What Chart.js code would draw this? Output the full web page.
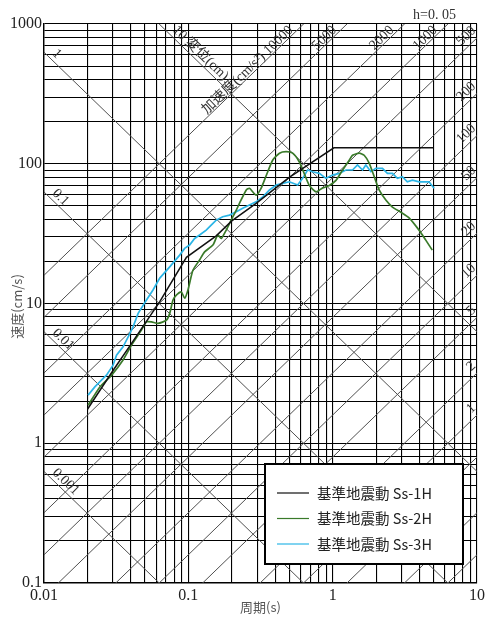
<!DOCTYPE html>
<html>
<head>
<meta charset="utf-8">
<script src="https://cdn.jsdelivr.net/npm/chart.js@4/dist/chart.umd.min.js"></script>
<style>
  body { margin: 0; background: #fff; }
  canvas { display: block; }
</style>
</head>
<body>
<canvas id="spectrum" width="488" height="617"></canvas>
<script>
// 🔹 DATA (period in s, pseudo velocity in cm/s)
const ss1Period = [0.02, 0.03, 0.04, 0.0634, 0.097, 0.156, 0.2, 0.295, 0.5, 1.02, 5.0];
const ss1Vel    = [1.75, 3.3, 5.1, 10.3, 21.4, 30.5, 39, 52, 80, 130, 130];

const ss2Period = [0.0202, 0.0244, 0.0294, 0.0353, 0.0404, 0.0473, 0.0513, 0.0555, 0.0617, 0.0705,
  0.0743, 0.0783, 0.0826, 0.0895, 0.0943, 0.0994, 0.1076, 0.1197, 0.1297, 0.148,
  0.16, 0.169, 0.183, 0.198, 0.215, 0.226, 0.252, 0.265, 0.295, 0.319,
  0.346, 0.384, 0.428, 0.476, 0.528, 0.588, 0.636, 0.689, 0.767, 0.851,
  0.948, 1.054, 1.17, 1.303, 1.373, 1.527, 1.653, 1.79, 1.939, 2.099,
  2.335, 2.595, 2.966, 3.383, 3.966, 4.416, 4.9];
const ss2Vel = [1.87, 2.53, 3.07, 3.94, 5.04, 6.45, 7.39, 7.39, 7.2, 7.6,
  8.5, 10.6, 11.5, 12.1, 10.9, 12.5, 17.3, 20.5, 23.4, 26.2,
  30.9, 29.2, 33.5, 39.5, 46.6, 52.1, 64.9, 66.7, 59.7, 66.7,
  82, 106, 119, 122, 119, 103, 85, 70, 63, 67,
  70, 76, 90, 106, 115, 119, 115, 101, 81, 65,
  55, 49, 45, 41, 33.5, 28.4, 24.1];

const ss3Period = [0.0202, 0.0225, 0.025, 0.0271, 0.0301, 0.0318, 0.0353, 0.0383, 0.0414, 0.0449,
  0.0513, 0.0569, 0.0634, 0.0743, 0.0871, 0.0943, 0.102, 0.1106, 0.1197, 0.133,
  0.144, 0.156, 0.173, 0.193, 0.215, 0.238, 0.265, 0.295, 0.328, 0.365,
  0.406, 0.451, 0.501, 0.572, 0.619, 0.671, 0.726, 0.808, 0.899, 0.998,
  1.111, 1.236, 1.373, 1.486, 1.61, 1.698, 1.84, 1.992, 2.213, 2.395,
  2.595, 2.81, 3.04, 3.29, 3.57, 3.97, 4.3, 4.65, 5.04];
const ss3Vel = [2.21, 2.53, 2.83, 3.07, 3.62, 4.27, 4.9, 5.78, 6.8, 8.5,
  10.6, 12.5, 15.2, 18.3, 22.2, 24.8, 26.2, 29.2, 30.9, 33.5,
  36.4, 39.5, 41.8, 42.9, 45.3, 48, 50.6, 53.4, 58, 64.9,
  70.4, 72.4, 74.3, 70.4, 78.6, 90.2, 87.7, 85.3, 78.6, 83,
  85.3, 90.2, 90.2, 98, 90.2, 98, 87.7, 92.7, 92.7, 85.3,
  85.3, 78.6, 80.7, 74.3, 76.4, 74.3, 74.3, 74.3, 66.7];

const seriesNames = ["基準地震動 Ss-1H", "基準地震動 Ss-2H", "基準地震動 Ss-3H"];

// 🔹 AXES
const gridSteps = [1, 2, 3, 4, 5, 6, 7, 8, 9];
const xDecades = [0.01, 0.1, 1];
const yDecades = [0.1, 1, 10, 100];
const xLabelValues = [0.01, 0.1, 1, 10];
const xLabelText = ["0.01", "0.1", "1", "10"];
const yLabelValues = [0.1, 1, 10, 100, 1000];
const yLabelText = ["0.1", "1", "10", "100", "1000"];

// tripartite lines: acceleration (cm/s2) and displacement (cm)
const accelLines = [10000, 5000, 2000, 1000, 500, 200, 100, 50, 20, 10, 5, 2, 1, 0.5, 0.2, 0.1];
const accelLabels = ["加速度(cm/s²) 10000", "5000", "2000", "1000", "500", "200", "100", "50", "20", "10", "5", "2", "1"];
const dispLines = [10, 1, 0.1, 0.01, 0.001];
const dispLabels = ["10 変位(cm)", "1", "0.1", "0.01", "0.001"];

const TWO_PI = 2 * Math.PI;

const xGrid = xDecades.flatMap(d => gridSteps.map(s => +(d * s).toPrecision(3))).concat([10]);
const yGrid = yDecades.flatMap(d => gridSteps.map(s => +(d * s).toPrecision(3))).concat([1000]);

function findLabel(v, values, texts) {
  const i = values.findIndex(l => Math.abs(Math.log10(l) - Math.log10(v)) < 1e-6);
  return i >= 0 ? texts[i] : "";
}

function pts(px, py) {
  return px.map((t, i) => ({ x: t, y: py[i] }));
}

function textAlong(ctx, str, px, py, ang, align, off) {
  ctx.save();
  ctx.translate(px, py);
  ctx.rotate(ang);
  ctx.textAlign = align;
  ctx.textBaseline = "alphabetic";
  ctx.fillText(str, 0, -off);
  ctx.restore();
}

// 🔹 diagonal lines + their labels
const tripartite = {
  id: "tripartite",
  beforeDatasetsDraw(chart) {
    const { ctx, chartArea: a, scales: { x, y } } = chart;
    const t0 = 0.01, t1 = 10;
    ctx.save();
    ctx.beginPath();
    ctx.rect(a.left, a.top, a.right - a.left, a.bottom - a.top);
    ctx.clip();
    ctx.strokeStyle = "#505050";
    ctx.lineWidth = 1;

    accelLines.forEach(A => {
      ctx.beginPath();
      ctx.moveTo(x.getPixelForValue(t0), y.getPixelForValue(A * t0 / TWO_PI));
      ctx.lineTo(x.getPixelForValue(t1), y.getPixelForValue(A * t1 / TWO_PI));
      ctx.stroke();
    });
    dispLines.forEach(D => {
      ctx.beginPath();
      ctx.moveTo(x.getPixelForValue(t0), y.getPixelForValue(TWO_PI * D / t0));
      ctx.lineTo(x.getPixelForValue(t1), y.getPixelForValue(TWO_PI * D / t1));
      ctx.stroke();
    });

    ctx.fillStyle = "#333";
    ctx.font = "14px 'Liberation Serif', 'Noto Sans CJK JP'";

    // acceleration labels, near where each line leaves the plot
    accelLabels.forEach((lab, i) => {
      const A = accelLines[i];
      const p0x = x.getPixelForValue(t0), p0y = y.getPixelForValue(A * t0 / TWO_PI);
      const p1x = x.getPixelForValue(t1), p1y = y.getPixelForValue(A * t1 / TWO_PI);
      const ang = Math.atan2(p1y - p0y, p1x - p0x);
      const vEnd = A * t1 / TWO_PI;
      let ex, ey, s, off;
      if (vEnd <= 1000) {
        ex = a.right; ey = y.getPixelForValue(vEnd); s = -4; off = 5;
      } else {
        ex = x.getPixelForValue(TWO_PI * 1000 / A); ey = a.top; s = 12; off = 2;
      }
      textAlong(ctx, lab, ex - s * Math.cos(ang), ey - s * Math.sin(ang), ang, "right", off);
    });

    // displacement labels, near where each line enters the plot
    dispLabels.forEach((lab, i) => {
      const D = dispLines[i];
      const p0x = x.getPixelForValue(t0), p0y = y.getPixelForValue(TWO_PI * D / t0);
      const p1x = x.getPixelForValue(t1), p1y = y.getPixelForValue(TWO_PI * D / t1);
      const ang = Math.atan2(p1y - p0y, p1x - p0x);
      const vStart = TWO_PI * D / t0;
      let sx, sy, s;
      if (vStart <= 1000) {
        sx = a.left; sy = y.getPixelForValue(vStart); s = 7;
      } else {
        sx = x.getPixelForValue(TWO_PI * D / 1000); sy = a.top; s = 14;
      }
      textAlong(ctx, lab, sx + s * Math.cos(ang), sy + s * Math.sin(ang), ang, "left", 4);
    });
    ctx.restore();
  },

  afterDraw(chart) {
    const { ctx, chartArea: a } = chart;
    ctx.save();

    // axis titles
    ctx.fillStyle = "#555";
    ctx.font = "13px 'Noto Sans CJK JP'";
    ctx.textAlign = "center";
    ctx.textBaseline = "middle";
    ctx.fillText("周期(s)", (a.left + a.right) / 2, 607);
    ctx.save();
    ctx.translate(17, (a.top + a.bottom) / 2 + 3);
    ctx.rotate(-Math.PI / 2);
    ctx.fillText("速度(cm/s)", 0, 0);
    ctx.restore();

    // damping note
    ctx.fillStyle = "#333";
    ctx.font = "14px 'Liberation Serif'";
    ctx.textAlign = "left";
    ctx.fillText("h=0. 05", 413, 15);

    // legend box
    const bx = 265, by = 464, bw = 198, bh = 100;
    ctx.fillStyle = "#fff";
    ctx.fillRect(bx, by, bw, bh);
    ctx.strokeStyle = "#000";
    ctx.lineWidth = 2;
    ctx.strokeRect(bx, by, bw, bh);
    ctx.font = "14.5px 'Noto Sans CJK JP'";
    ctx.textBaseline = "middle";
    chart.data.datasets.forEach((ds, i) => {
      const ly = 493 + i * 25.5;
      ctx.strokeStyle = ds.borderColor;
      ctx.lineWidth = 1.2;
      ctx.beginPath();
      ctx.moveTo(277, ly);
      ctx.lineTo(309, ly);
      ctx.stroke();
      ctx.fillStyle = "#222";
      ctx.fillText(ds.label, 317, ly);
    });
    ctx.restore();
  }
};

// 🔹 CHART
new Chart(document.getElementById("spectrum"), {
  type: "line",
  data: {
    datasets: [
      { label: seriesNames[0], data: pts(ss1Period, ss1Vel), borderColor: "#111", borderWidth: 1.5 },
      { label: seriesNames[1], data: pts(ss2Period, ss2Vel), borderColor: "#3a7a2a", borderWidth: 1.7, tension: 0.2 },
      { label: seriesNames[2], data: pts(ss3Period, ss3Vel), borderColor: "#2bb5e6", borderWidth: 1.7 }
    ]
  },
  options: {
    responsive: false,
    animation: false,
    devicePixelRatio: 1,
    layout: { padding: { top: 24, right: 10, left: 0, bottom: 0 } },
    elements: { point: { radius: 0 } },
    plugins: { legend: { display: false }, tooltip: { enabled: false } },
    scales: {
      x: {
        type: "logarithmic",
        min: 0.01,
        max: 10,
        afterBuildTicks: s => { s.ticks = xGrid.map(v => ({ value: v })); },
        afterFit: s => { s.height = 34; },
        grid: { color: "#000", lineWidth: 1.1, drawTicks: false },
        border: { color: "#000", width: 1.4 },
        ticks: {
          autoSkip: false,
          maxRotation: 0,
          padding: 3,
          color: "#222",
          font: { family: "Liberation Serif", size: 16 },
          callback: v => findLabel(v, xLabelValues, xLabelText)
        }
      },
      y: {
        type: "logarithmic",
        min: 0.1,
        max: 1000,
        afterBuildTicks: s => { s.ticks = yGrid.map(v => ({ value: v })); },
        afterFit: s => { s.width = 44; },
        grid: { color: "#000", lineWidth: 1.1, drawTicks: false },
        border: { color: "#000", width: 1.4 },
        ticks: {
          autoSkip: false,
          padding: 2,
          color: "#222",
          font: { family: "Liberation Serif", size: 16 },
          callback: v => findLabel(v, yLabelValues, yLabelText)
        }
      }
    }
  },
  plugins: [tripartite]
});
</script>
</body>
</html>
